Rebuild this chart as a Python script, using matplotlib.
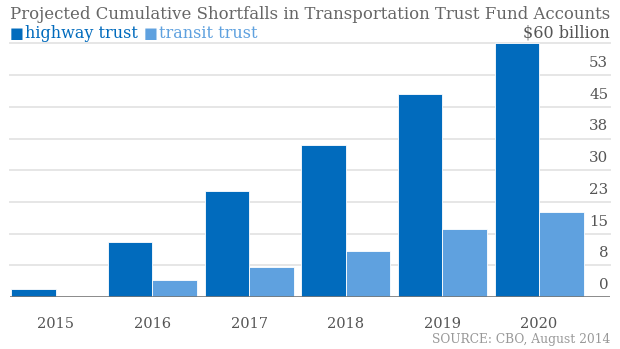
import matplotlib.pyplot as plt
import numpy as np

# Cumulative shortfalls, $ billion
years = ["2015", "2016", "2017", "2018", "2019", "2020"]
highway = [2, 13, 25, 36, 48, 60]
transit = [0, 4, 7, 11, 16, 20]

tick_values = [0, 7.5, 15, 22.5, 30, 37.5, 45, 52.5]
tick_labels = ["0", "8", "15", "23", "30", "38", "45", "53"]

HIGHWAY = "#016bbd"
TRANSIT = "#5fa1df"
GRID = "#e6e6e6"
TEXT = "#666666"

plt.rcParams["font.family"] = ["DejaVu Serif"]

W, H = 620, 349
fig = plt.figure(figsize=(W / 100, H / 100), dpi=100)

# axes spans from x=10..610 px and y=43..297 px
ax = fig.add_axes([10 / W, (H - 297) / H, 600 / W, (297 - 43.4) / H])

x = np.arange(len(years))
w = 0.46
ax.bar(x - w / 2, highway, w, color=HIGHWAY, edgecolor="white", linewidth=0.6, zorder=3)
ax.bar(x + w / 2, transit, w, color=TRANSIT, edgecolor="white", linewidth=0.6, zorder=3)

ax.set_xlim(-0.473, 5.734)
ax.set_ylim(0, 60)

for v in tick_values[1:] + [60]:
    ax.axhline(v, color=GRID, lw=1.4, zorder=1, clip_on=False)
ax.axhline(0, color="#777777", lw=1.2, zorder=4)

for v, lab in zip(tick_values, tick_labels):
    ax.text(0.997, v + 1.2, lab, transform=ax.get_yaxis_transform(),
            ha="right", va="bottom", fontsize=10.8, color="#555555")

for xi, yr in zip(x, years):
    ax.text(xi, -4.8, yr, ha="center", va="top", fontsize=10.5, color="#555555")

ax.axis("off")

fig.text(10 / W, 1 - 19 / H, "Projected Cumulative Shortfalls in Transportation Trust Fund Accounts",
         ha="left", va="baseline", fontsize=11.9, color=TEXT)

# legend row: square + label, chained left to right
renderer = fig.canvas.get_renderer()
xpos = 10
for lab, col in [("highway trust", HIGHWAY), ("transit trust", TRANSIT)]:
    sq = fig.text(xpos / W, 1 - 38 / H, "\u25a0", ha="left", va="baseline",
                  fontsize=10.5, color=col, family="DejaVu Sans")
    xpos = sq.get_window_extent(renderer).x1 + 1
    t = fig.text(xpos / W, 1 - 38 / H, lab, ha="left", va="baseline",
                 fontsize=11.5, color=col)
    xpos = t.get_window_extent(renderer).x1 + 6

fig.text(610 / W, 1 - 38 / H, "$60 billion", ha="right", va="baseline",
         fontsize=11.5, color="#555555")

fig.text(610 / W, 1 - 343 / H, "SOURCE: CBO, August 2014", ha="right", va="baseline",
         fontsize=8.8, color="#999999")

fig.savefig("out.png", dpi=100)
